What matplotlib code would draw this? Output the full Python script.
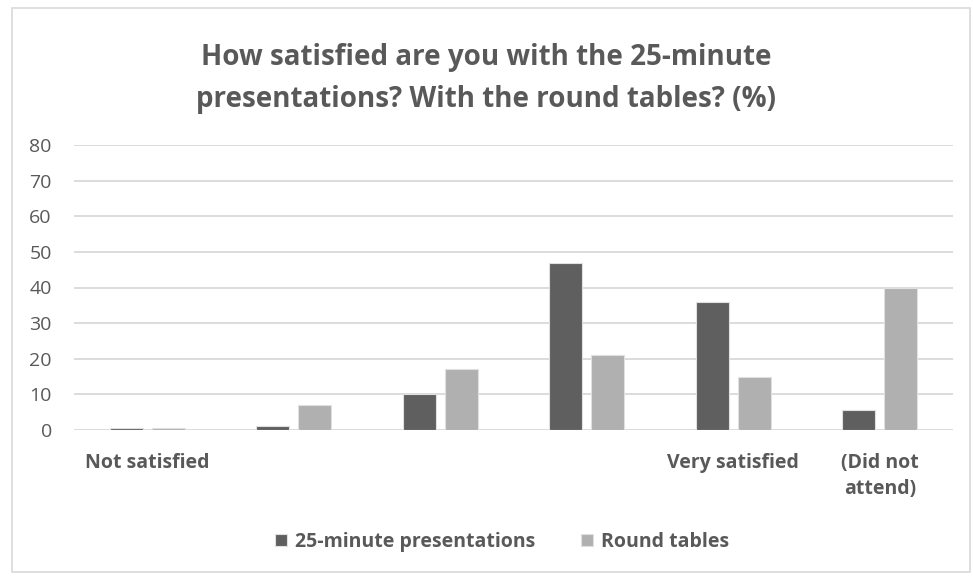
import matplotlib.pyplot as plt
import numpy as np
from matplotlib.patches import Rectangle

# Data
categories = ["Not satisfied", "", "", "", "Very satisfied", "(Did not\nattend)"]
presentations = [0.5, 1, 10, 47, 36, 5.5]
round_tables = [0.5, 7, 17, 21, 15, 40]
series_names = ["25-minute presentations", "Round tables"]

dark = "#5f5f5f"
light = "#b0b0b0"
txt = "#595959"
grid = "#d9d9d9"

plt.rcParams['font.family'] = ['Open Sans', 'DejaVu Sans']

fig = plt.figure(figsize=(9.73, 5.78), dpi=100)
ax = fig.add_axes([74/973, 1 - 430/578, 879/973, 285/578])

x = np.arange(len(categories))
w = 0.225
off = 0.143
ax.bar(x - off, presentations, w, color=dark, edgecolor="#e0e0e0", linewidth=0.8, label=series_names[0], zorder=3)
ax.bar(x + off, round_tables, w, color=light, edgecolor="#e0e0e0", linewidth=0.8, label=series_names[1], zorder=3)

ax.set_xlim(-0.5, len(categories) - 0.5)
ax.set_ylim(0, 80)
ax.set_yticks(range(0, 81, 10))
ax.yaxis.grid(True, color=grid, linewidth=1.3, zorder=0)
ax.tick_params(axis='y', length=0, labelsize=14, labelcolor=txt, pad=16)
ax.tick_params(axis='x', length=0)
ax.set_xticks([])
for s in ax.spines.values():
    s.set_visible(False)

for xi, lab in zip(x, categories):
    if lab:
        ax.text(xi, -6.5, lab, ha='center', va='top', fontsize=14, fontweight='bold',
                color=txt, linespacing=1.4)

fig.text(0.5, 1 - 58/578, "How satisfied are you with the 25-minute", ha='center', va='center',
         fontsize=20, fontweight='bold', color=txt)
fig.text(0.5, 1 - 99/578, "presentations? With the round tables? (%)", ha='center', va='center',
         fontsize=20, fontweight='bold', color=txt)

leg = fig.legend(loc='center', bbox_to_anchor=(0.516, 1 - 542/578), ncol=2, frameon=False,
                 handlelength=0.6, handleheight=0.6, handletextpad=0.4,
                 columnspacing=2.4, prop={'weight': 'bold', 'size': 14})
for t in leg.get_texts():
    t.set_color(txt)

# outer chart border
fig.patches.append(Rectangle((12/973, 1 - 572/578), 958/973, 564/578, transform=fig.transFigure,
                             fill=False, edgecolor="#d9d9d9", linewidth=1.2))

fig.savefig("out.png", dpi=100)
